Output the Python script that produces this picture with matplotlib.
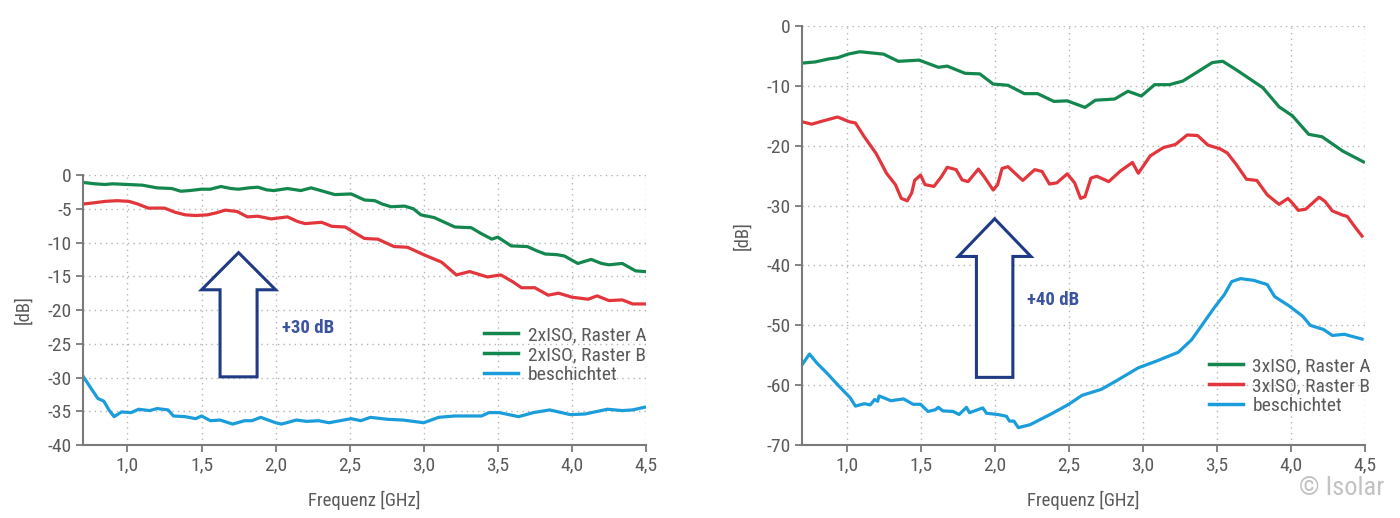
import numpy as np
import matplotlib
matplotlib.use("Agg")
import matplotlib.pyplot as plt
from matplotlib.lines import Line2D
from matplotlib.patches import Polygon
from matplotlib import font_manager

# condensed grey sans like the original, falling back to what is installed
_installed = {f.name for f in font_manager.fontManager.ttflist}
_fams = [f for f in ['Roboto Condensed', 'DejaVu Sans Condensed', 'Liberation Sans Narrow',
                     'Liberation Sans'] if f in _installed]
plt.rcParams['font.family'] = _fams + ['DejaVu Sans']
plt.rcParams['axes.unicode_minus'] = False

# ---- left chart: 2xISO ----
f_a2 = [0.70, 0.78, 0.85, 0.90, 1.00, 1.10, 1.20, 1.30, 1.36, 1.42, 1.50, 1.56, 1.63, 1.70,
        1.75, 1.82, 1.88, 1.94, 1.99, 2.08, 2.17, 2.24, 2.32, 2.40, 2.51, 2.56, 2.60, 2.67,
        2.72, 2.78, 2.87, 2.93, 2.98, 3.07, 3.16, 3.21, 3.32, 3.39, 3.46, 3.50, 3.59, 3.70,
        3.76, 3.82, 3.90, 3.95, 4.04, 4.13, 4.20, 4.25, 4.34, 4.43, 4.49]
db_a2 = [-1.1, -1.3, -1.4, -1.3, -1.4, -1.5, -1.9, -2.0, -2.4, -2.3, -2.1, -2.1, -1.7, -2.0,
         -2.1, -1.9, -1.8, -2.2, -2.3, -2.0, -2.3, -1.9, -2.4, -2.9, -2.8, -3.3, -3.7, -3.8,
         -4.3, -4.7, -4.6, -5.0, -5.9, -6.3, -7.2, -7.7, -7.8, -8.7, -9.5, -9.2, -10.5, -10.6,
         -11.2, -11.7, -11.8, -12.0, -13.1, -12.5, -13.1, -13.3, -13.1, -14.2, -14.3]

f_b2 = [0.70, 0.78, 0.85, 0.93, 1.01, 1.07, 1.14, 1.25, 1.32, 1.39, 1.46, 1.54, 1.60, 1.66,
        1.74, 1.81, 1.88, 1.97, 2.08, 2.15, 2.20, 2.31, 2.38, 2.47, 2.53, 2.60, 2.69, 2.80,
        2.89, 2.95, 3.01, 3.12, 3.22, 3.31, 3.43, 3.52, 3.60, 3.66, 3.75, 3.84, 3.91, 4.00,
        4.11, 4.17, 4.25, 4.34, 4.41, 4.49]
db_b2 = [-4.3, -4.1, -3.9, -3.8, -3.9, -4.3, -4.9, -4.9, -5.5, -5.9, -6.0, -5.9, -5.6, -5.2,
         -5.4, -6.2, -6.1, -6.5, -6.2, -6.9, -7.2, -7.0, -7.6, -7.7, -8.5, -9.4, -9.5, -10.6,
         -10.7, -11.3, -11.9, -12.9, -14.8, -14.3, -15.1, -14.8, -15.8, -16.7, -16.7, -17.8, -17.5, -18.1,
         -18.4, -17.9, -18.6, -18.5, -19.1, -19.1]

f_c2 = [0.70, 0.76, 0.80, 0.84, 0.875, 0.91, 0.96, 1.025, 1.075, 1.15, 1.20, 1.275, 1.31, 1.39,
        1.46, 1.50, 1.56, 1.625, 1.71, 1.79, 1.84, 1.90, 2.00, 2.04, 2.14, 2.21, 2.29, 2.36,
        2.51, 2.575, 2.64, 2.76, 2.86, 3.00, 3.10, 3.21, 3.31, 3.39, 3.44, 3.51, 3.64, 3.74,
        3.85, 3.89, 3.99, 4.09, 4.24, 4.34, 4.41, 4.49]
db_c2 = [-29.8, -31.8, -33.1, -33.5, -34.8, -35.8, -35.1, -35.2, -34.7, -34.9, -34.6, -34.8, -35.7, -35.8,
         -36.1, -35.7, -36.4, -36.3, -36.9, -36.4, -36.4, -35.9, -36.7, -36.9, -36.3, -36.5, -36.4, -36.7,
         -36.1, -36.4, -35.9, -36.2, -36.3, -36.7, -35.9, -35.7, -35.7, -35.7, -35.2, -35.2, -35.8, -35.2,
         -34.8, -35.0, -35.5, -35.4, -34.7, -34.9, -34.8, -34.4]

# ---- right chart: 3xISO ----
f_a3 = [0.70, 0.79, 0.88, 0.94, 1.01, 1.09, 1.17, 1.25, 1.35, 1.49, 1.62, 1.68, 1.80, 1.90,
        1.99, 2.09, 2.20, 2.29, 2.40, 2.49, 2.61, 2.68, 2.81, 2.90, 2.99, 3.08, 3.18, 3.27,
        3.38, 3.47, 3.54, 3.63, 3.72, 3.81, 3.92, 4.01, 4.12, 4.21, 4.35, 4.49]
db_a3 = [-6.2, -6.0, -5.5, -5.3, -4.7, -4.3, -4.5, -4.7, -5.9, -5.7, -6.9, -6.7, -7.9, -8.0,
         -9.7, -9.9, -11.3, -11.3, -12.6, -12.5, -13.6, -12.4, -12.2, -10.9, -11.7, -9.8, -9.8, -9.2,
         -7.5, -6.1, -5.9, -7.3, -8.8, -10.3, -13.5, -15.0, -18.1, -18.5, -20.9, -22.7]

f_b3 = [0.70, 0.765, 0.85, 0.94, 1.02, 1.06, 1.12, 1.20, 1.27, 1.33, 1.37, 1.41, 1.44, 1.46,
        1.50, 1.53, 1.59, 1.64, 1.68, 1.74, 1.78, 1.82, 1.89, 1.93, 1.99, 2.02, 2.05, 2.09,
        2.19, 2.27, 2.32, 2.37, 2.42, 2.49, 2.54, 2.58, 2.61, 2.65, 2.69, 2.77, 2.85, 2.93,
        2.97, 3.05, 3.14, 3.22, 3.30, 3.37, 3.44, 3.52, 3.57, 3.63, 3.70, 3.77, 3.84, 3.92,
        3.98, 4.01, 4.05, 4.10, 4.19, 4.23, 4.28, 4.35, 4.38, 4.43, 4.48]
db_b3 = [-16.0, -16.4, -15.8, -15.2, -16.0, -16.2, -18.5, -21.3, -24.6, -26.5, -28.8, -29.2, -27.9, -25.8,
         -24.9, -26.5, -26.8, -25.2, -23.6, -24.0, -25.7, -26.0, -23.9, -25.2, -27.4, -26.5, -23.8, -23.5,
         -25.8, -24.0, -24.3, -26.4, -26.2, -24.7, -26.2, -28.8, -28.5, -25.4, -25.1, -26.0, -24.2, -22.8,
         -24.6, -21.7, -20.3, -19.8, -18.2, -18.3, -19.9, -20.5, -21.2, -23.1, -25.6, -25.8, -28.2, -29.8,
         -28.8, -29.6, -30.8, -30.6, -28.6, -29.3, -30.9, -31.6, -31.8, -33.5, -35.1]

f_c3 = [0.70, 0.75, 0.80, 0.876, 0.95, 1.025, 1.06, 1.12, 1.16, 1.19, 1.21, 1.22, 1.30, 1.385,
        1.45, 1.50, 1.55, 1.60, 1.62, 1.65, 1.72, 1.76, 1.81, 1.83, 1.92, 1.945, 2.02, 2.08,
        2.10, 2.13, 2.16, 2.24, 2.39, 2.50, 2.59, 2.72, 2.82, 2.97, 3.09, 3.24, 3.33, 3.41,
        3.49, 3.55, 3.60, 3.66, 3.75, 3.84, 3.89, 3.99, 4.08, 4.13, 4.22, 4.28, 4.36, 4.48]
db_c3 = [-56.6, -54.8, -56.3, -58.2, -60.2, -62.1, -63.5, -63.1, -63.3, -62.4, -62.7, -61.8, -62.6, -62.3,
         -63.2, -63.2, -64.4, -64.1, -63.7, -64.3, -64.4, -64.9, -63.7, -64.6, -63.8, -64.7, -64.9, -65.2,
         -66.0, -66.0, -67.1, -66.6, -64.7, -63.2, -61.7, -60.7, -59.3, -57.1, -56.0, -54.5, -52.4, -49.6,
         -46.8, -44.9, -42.7, -42.2, -42.5, -43.2, -45.2, -46.8, -48.5, -50.0, -50.7, -51.7, -51.5, -52.3]

labels_left = ['2xISO, Raster A', '2xISO, Raster B', 'beschichtet']
labels_right = ['3xISO, Raster A', '3xISO, Raster B', 'beschichtet']
xticks = [1.0, 1.5, 2.0, 2.5, 3.0, 3.5, 4.0, 4.5]
yticks_left = [0, -5, -10, -15, -20, -25, -30, -35, -40]
yticks_right = [0, -10, -20, -30, -40, -50, -60, -70]

GREEN = '#14874f'
RED = '#e2363c'
BLUE = '#1b9ddb'
NAVY = '#1f3b85'
TXT = '#5a5a5a'
AXC = '#7a7a7a'
# the original left legend shows Raster B in green as well
legend_colors_left = [GREEN, GREEN, BLUE]
legend_colors_right = [GREEN, RED, BLUE]

fig = plt.figure(figsize=(14, 5.18), dpi=100)
ax1 = fig.add_axes([0.0593, 0.1409, 0.4021, 0.5212])
ax2 = fig.add_axes([0.5729, 0.1409, 0.4021, 0.8089])


def style(ax, yticks, ylim):
    ax.set_xlim(0.7, 4.5)
    ax.set_ylim(*ylim)
    ax.set_xticks(xticks)
    ax.set_xticklabels([f"{t:.1f}".replace('.', ',') for t in xticks])
    ax.set_yticks(yticks)
    ax.set_yticklabels([str(t) for t in yticks])
    for s in ['top', 'right']:
        ax.spines[s].set_visible(False)
    for s in ['left', 'bottom']:
        ax.spines[s].set_color(AXC)
        ax.spines[s].set_linewidth(1.5)
    ax.tick_params(colors=AXC, labelcolor=TXT, labelsize=14, length=5, width=1.3, pad=3)
    ax.grid(True, linestyle=(0, (1, 3)), color='#b5b5b5', linewidth=1)
    ax.set_axisbelow(True)
    ax.set_xlabel('Frequenz [GHz]', fontsize=13.5, color=TXT, labelpad=12)
    ax.set_ylabel('[dB]', fontsize=13.5, color=TXT)
    ax.yaxis.set_label_coords(-0.089, 0.5)


def arrow(ax, xc, tip, base, bottom, head_hw, shaft_hw):
    pts = [(xc, tip), (xc + head_hw, base), (xc + shaft_hw, base), (xc + shaft_hw, bottom),
           (xc - shaft_hw, bottom), (xc - shaft_hw, base), (xc - head_hw, base)]
    ax.add_patch(Polygon(pts, closed=True, facecolor='white', edgecolor=NAVY, linewidth=2.2, zorder=4))


style(ax1, yticks_left, (-40, 0))
ax1.plot(f_a2, db_a2, color=GREEN, lw=2.3)
ax1.plot(f_b2, db_b2, color=RED, lw=2.3)
ax1.plot(f_c2, db_c2, color=BLUE, lw=2.3)
arrow(ax1, 1.75, -11.5, -17.0, -29.9, 0.25, 0.125)
ax1.text(2.04, -22.7, '+30 dB', color='#3c54a0', fontsize=13.5, fontweight='bold', va='center')
h1 = [Line2D([], [], color=c, lw=2.5) for c in legend_colors_left]
ax1.legend(h1, labels_left, loc='upper left', bbox_to_anchor=(0.712, 0.44), frameon=False,
           fontsize=14, labelcolor=TXT, handlelength=1.75, handletextpad=0.5, labelspacing=0.1,
           borderpad=0, borderaxespad=0)

style(ax2, yticks_right, (-70, 0))
ax2.plot(f_a3, db_a3, color=GREEN, lw=2.3)
ax2.plot(f_b3, db_b3, color=RED, lw=2.3)
ax2.plot(f_c3, db_c3, color=BLUE, lw=2.3)
arrow(ax2, 2.0, -32.2, -38.5, -58.7, 0.245, 0.123)
ax2.text(2.22, -45.8, '+40 dB', color='#3c54a0', fontsize=13.5, fontweight='bold', va='center')
h2 = [Line2D([], [], color=c, lw=2.5) for c in legend_colors_right]
ax2.legend(h2, labels_right, loc='upper left', bbox_to_anchor=(0.722, 0.21), frameon=False,
           fontsize=14, labelcolor=TXT, handlelength=1.75, handletextpad=0.5, labelspacing=0.1,
           borderpad=0, borderaxespad=0)

fig.text(0.989, 0.058, '\u00a9 Isolar', ha='right', va='center', fontsize=19, color='#c2c2c2')

fig.savefig('out.png', dpi=100)
